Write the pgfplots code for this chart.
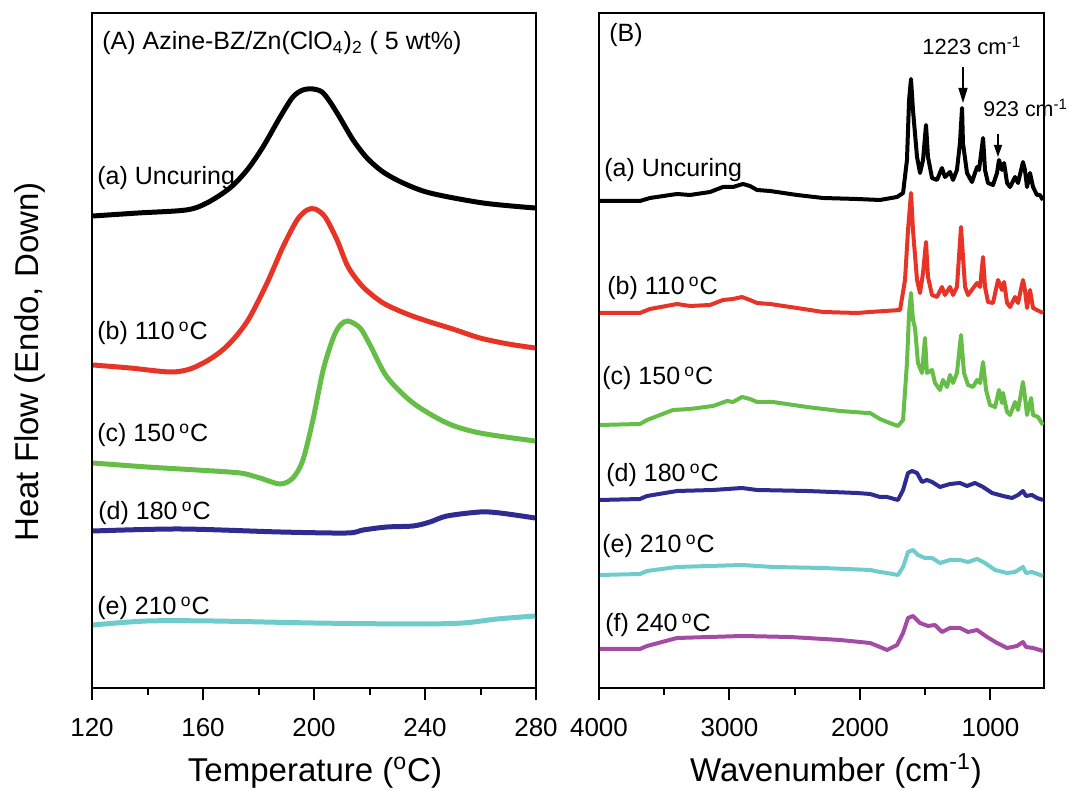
\documentclass[border=0pt]{standalone}
\usepackage{pgfplots}
\pgfplotsset{compat=1.18}
\usepackage{fontspec}
\setmainfont{Liberation Sans}
\usetikzlibrary{arrows.meta}
\definecolor{cred}{RGB}{232,52,38}
\definecolor{cgreen}{RGB}{102,190,72}
\definecolor{cnavy}{RGB}{46,43,145}
\definecolor{ccyan}{RGB}{112,204,204}
\definecolor{cpurple}{RGB}{164,76,164}
\newcommand{\lbl}{\fontsize{12.5}{15}\selectfont}
\newcommand{\dC}{\,\textsuperscript{o}C}
\pgfplotsset{
  mypanel/.style={
    anchor=south west, scale only axis, height=337.5pt,
    ymin=0, ymax=675, ytick=\empty, xtick pos=bottom,
    tick align=outside, major tick length=6pt, minor tick length=3.5pt,
    axis line style={line width=1pt}, tick style={line width=1pt,black},
    tick label style={font=\fontsize{13}{15}\selectfont},
    xticklabel style={yshift=-5.5pt},
    /pgf/number format/assume math mode=true,
    /pgf/number format/1000 sep={},
    minor x tick num=1,
  }
}
\begin{document}
\begin{tikzpicture}
\useasboundingbox (0,0) rectangle (533.5pt,395.5pt);
% ---------------- Panel A ----------------
\begin{axis}[mypanel, at={(46pt,51.5pt)}, width=222pt,
  xmin=120, xmax=280, xtick={120,160,200,240,280}]
\addplot[black, line width=2.5pt, smooth, tension=0.5] coordinates {
(120.4,472) (136.6,475) (153.9,478) (161.4,485) (169.7,500) (175.9,518) (181.6,541) (187.8,571) (192.4,591) (196.0,598) (199.6,599) (202.9,596) (205.8,586) (209.4,570) (214.1,548) (219.1,530) (224.9,516) (232.1,505) (241.8,495) (260.9,485) (279.7,480)};
\addplot[cred, line width=2.5pt, smooth, tension=0.5] coordinates {
(120.4,323) (133.7,320) (148.1,316) (155.3,319) (162.0,328) (167.5,339) (172.3,353) (176.9,371) (183.1,405) (188.8,441) (193.9,468) (197.5,478) (200.4,479) (204.0,471) (208.3,448) (212.3,421) (217.7,401) (224.9,385) (233.5,374) (241.8,366) (250.0,359) (259.8,350) (270.0,344) (279.7,340)};
\addplot[cgreen, line width=2.5pt, smooth, tension=0.5] coordinates {
(120.4,225) (139.8,221) (157.8,218) (173.3,215) (180.5,210) (187.8,204) (192.4,210) (196.0,228) (199.6,268) (203.3,318) (206.9,350) (209.5,363) (212.3,367) (216.6,360) (220.2,343) (226.3,311) (235.7,285) (247.9,265) (259.8,255) (279.7,247)};
\addplot[cnavy, line width=2.5pt, smooth, tension=0.5] coordinates {
(120.4,157) (151.7,159) (187.8,156) (211.9,155) (217.7,158) (226.3,161) (235.7,162) (241.8,166) (247.9,172) (259.8,176) (267.0,175) (279.7,170)};
\addplot[ccyan, line width=2.5pt, smooth, tension=0.5] coordinates {
(120.4,63) (139.8,67) (163.6,67) (199.6,65) (235.7,64) (253.7,65) (266.0,69) (279.7,72)};
\end{axis}
% ---------------- Panel B ----------------
\begin{axis}[mypanel, at={(299.5pt,51.5pt)}, width=222.5pt,
  x dir=reverse, xmin=590, xmax=4000, xtick={1000,2000,3000,4000}]
\addplot[black, line width=2pt, line join=round] table {
3992 487
3686 487
3609 490
3402 494
3303 493
3149 496
3050 501
2973 501
2897 504
2843 502
2789 498
2690 497
2483 493
2284 490
2023 489
1847 488
1716 491
1670 495
1640 528
1624 588
1609 609
1594 578
1563 531
1540 515
1517 528
1494 563
1479 531
1448 510
1410 508
1372 520
1349 511
1310 516
1287 508
1257 518
1234 545
1218 580
1211 545
1180 515
1142 506
1103 521
1088 518
1057 550
1042 518
1019 505
981 503
950 515
935 528
912 518
896 525
873 505
850 501
812 511
789 505
751 526
736 518
720 501
697 515
674 501
644 493
621 493
598 488
};
\addplot[cred, line width=2pt, line join=round] table {
3992 375
3686 375
3609 379
3402 384
3303 382
3149 383
3050 388
2973 389
2904 391
2843 388
2789 385
2690 384
2483 380
2284 376
2023 375
1923 376
1693 378
1655 408
1632 458
1609 495
1594 458
1563 408
1540 395
1517 415
1494 446
1479 411
1448 393
1410 391
1372 401
1349 393
1310 401
1287 393
1257 401
1226 461
1195 401
1172 393
1103 405
1080 401
1057 431
1042 401
1019 386
981 385
942 408
912 398
896 406
873 385
850 381
812 391
789 385
751 408
736 398
720 380
697 398
674 380
644 378
598 375
};
\addplot[cgreen, line width=2pt, line join=round] table {
3992 263
3686 264
3632 268
3433 278
3303 279
3126 282
3019 287
2973 286
2904 291
2843 289
2789 286
2667 286
2406 281
2153 277
1946 275
1923 275
1847 269
1793 266
1709 262
1670 268
1640 325
1624 375
1609 395
1594 368
1578 360
1556 325
1525 315
1502 350
1487 315
1448 318
1425 305
1387 298
1364 308
1333 301
1310 313
1287 305
1257 315
1226 353
1203 315
1172 303
1134 301
1103 308
1080 305
1057 326
1034 298
1004 283
965 281
935 298
912 285
904 295
873 276
850 273
812 286
789 278
751 306
736 291
720 273
689 290
674 273
636 271
598 263
};
\addplot[cnavy, line width=2pt, line join=round] table {
3992 188
3686 189
3632 192
3402 197
3126 198
2904 200
2789 198
2406 197
2023 195
1923 194
1847 191
1793 191
1709 188
1670 198
1632 215
1601 217
1563 215
1525 206
1487 208
1448 206
1387 201
1310 204
1234 205
1180 202
1119 205
1057 201
988 195
904 192
835 190
789 193
751 197
728 192
682 193
644 190
598 188
};
\addplot[ccyan, line width=2pt, line join=round] table {
3992 113
3686 114
3632 117
3402 121
2904 123
2667 121
2284 120
1923 118
1847 116
1793 115
1709 113
1670 121
1632 136
1594 138
1556 133
1502 130
1448 130
1387 125
1310 128
1234 128
1172 126
1103 129
1042 125
965 118
873 115
812 116
751 121
728 115
682 116
598 112
};
\addplot[cpurple, line width=2pt, line join=round] table {
3992 39
3686 39
3632 42
3402 50
2904 52
2536 51
2153 48
1923 45
1847 41
1793 38
1716 43
1670 55
1632 70
1594 72
1540 65
1479 62
1425 63
1372 56
1310 60
1234 60
1172 56
1103 58
1026 51
950 45
873 40
797 42
751 46
728 41
674 40
598 37
};
\end{axis}
% ---------------- Labels ----------------
\node[rotate=90, font=\fontsize{16.5}{19}\selectfont] at (15pt,214.5pt) {Heat Flow (Endo, Down)};
\node[anchor=base, font=\fontsize{16.5}{19}\selectfont] at (157.5pt,4.5pt) {Temperature (\textsuperscript{o}C)};
\node[anchor=base, font=\fontsize{16.5}{19}\selectfont] at (418pt,4.5pt) {Wavenumber (cm\textsuperscript{-1})};
\begin{scope}[every node/.style={anchor=base west, inner sep=0pt, font=\lbl}]
\node at (51pt,370.5pt) {(A) Azine-BZ/Zn(ClO\textsubscript{4})\textsubscript{2} ( 5 wt\%)};
\node at (48.5pt,303pt) {(a) Uncuring};
\node at (48.5pt,225.5pt) {(b) 110\dC};
\node at (48.5pt,174.5pt) {(c) 150\dC};
\node at (49pt,135.5pt) {(d) 180\dC};
\node at (48.5pt,88pt) {(e) 210\dC};
\node at (304.5pt,374.5pt) {(B)};
\node at (302pt,307pt) {(a) Uncuring};
\node at (303.5pt,248pt) {(b) 110\dC};
\node at (301pt,203pt) {(c) 150\dC};
\node at (303pt,154.5pt) {(d) 180\dC};
\node at (301pt,119pt) {(e) 210\dC};
\node at (302.5pt,79.5pt) {(f) 240\dC};
\end{scope}
\begin{scope}[every node/.style={anchor=base west, inner sep=0pt}]
\node[font=\fontsize{11}{13}\selectfont] at (461pt,368pt) {1223 cm\textsuperscript{-1}};
\node[font=\fontsize{10.7}{12}\selectfont] at (491.5pt,337pt) {923 cm\textsuperscript{-1}};
\end{scope}
\draw[line width=0.7pt, -{Triangle[length=7.5pt,width=4.5pt]}] (481.5pt,362pt) -- (481.5pt,344pt);
\draw[line width=0.7pt, -{Triangle[length=6pt,width=4pt]}] (499pt,328.5pt) -- (499pt,317pt);
\end{tikzpicture}
\end{document}
